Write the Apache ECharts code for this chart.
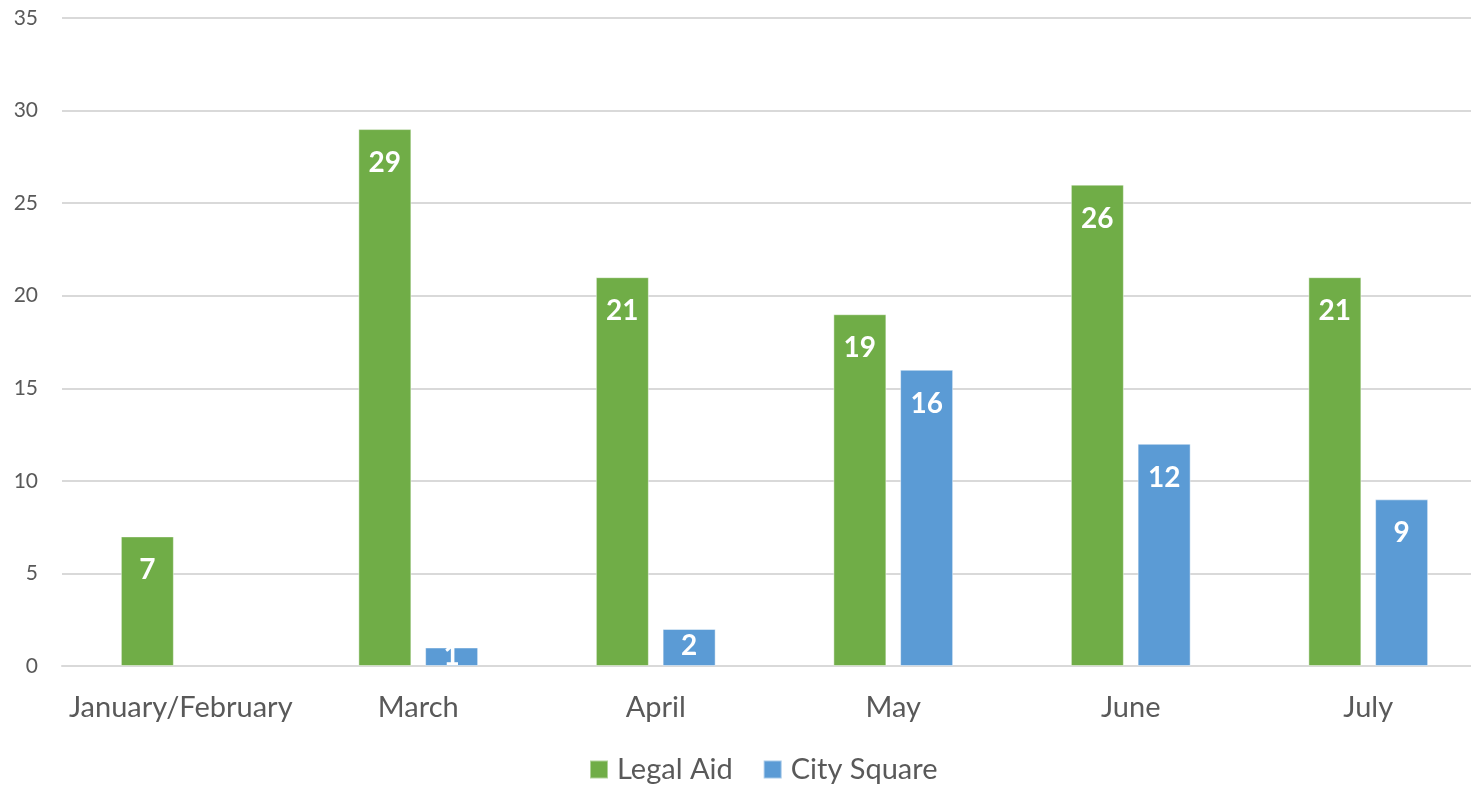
<!DOCTYPE html>
<html>
<head>
<meta charset="utf-8">
<script src="https://cdn.jsdelivr.net/npm/echarts@6/dist/echarts.min.js"></script>
<style>
  html, body { margin: 0; padding: 0; background: #fff; }
  #chart { width: 1471px; height: 787px; }
</style>
</head>
<body>
<div id="chart"></div>
<script>
// 月份分类
const months = ['January/February', 'March', 'April', 'May', 'June', 'July'];
// 各系列数值
const legalAid = [7, 29, 21, 19, 26, 21];
const citySquare = [null, 1, 2, 16, 12, 9];
// y轴刻度
const yTicks = [0, 5, 10, 15, 20, 25, 30, 35];

const textColor = '#595959';
const font = 'Lato';
const plotTop = 18;
const plotBottom = 121;
const plotHeight = 787 - plotTop - plotBottom;

// 柱子太矮时，标签往上移（类似Excel）
function withLabels(values) {
    const yMax = yTicks[yTicks.length - 1];
    return values.map(v => {
        if (v == null) return v;
        const h = v / yMax * plotHeight;
        if (h >= 45) return v;
        return { value: v, label: { distance: Math.max(-6, (h - 20) / 2 - 6) } };
    });
}

function initChart() {
    const chart = echarts.init(document.getElementById('chart'));
    const label = {
        show: true,
        position: 'insideTop',
        distance: 20,
        color: '#fff',
        fontFamily: font,
        fontWeight: 'bold',
        fontSize: 28
    };
    chart.setOption({
        animation: false,
        textStyle: { fontFamily: font },
        // 绘图区右侧超出画布，与原图一致
        grid: { left: 62, width: 1425, top: plotTop, bottom: plotBottom, outerBoundsMode: 'none' },
        legend: {
            bottom: -2,
            left: 584,
            itemWidth: 18,
            itemHeight: 18,
            itemGap: 30,
            icon: 'rect',
            textStyle: { color: textColor, fontSize: 29, fontFamily: font, padding: [0, 0, 0, 4] },
            data: ['Legal Aid', 'City Square']
        },
        xAxis: {
            type: 'category',
            data: months,
            axisLine: { lineStyle: { color: '#D9D9D9', width: 2 } },
            axisTick: { show: false },
            axisLabel: { color: textColor, fontSize: 29, margin: 27, interval: 0, fontFamily: font }
        },
        yAxis: {
            type: 'value',
            min: yTicks[0],
            max: yTicks[yTicks.length - 1],
            interval: 5,
            axisLine: { show: false },
            axisTick: { show: false },
            splitLine: { lineStyle: { color: '#D9D9D9', width: 2 } },
            axisLabel: { color: textColor, fontSize: 21, margin: 24, fontFamily: font }
        },
        series: [
            {
                name: 'Legal Aid',
                type: 'bar',
                data: withLabels(legalAid),
                barWidth: 53,
                barGap: '26%',
                itemStyle: { color: '#70AD47', borderColor: 'rgba(255,255,255,0.45)', borderWidth: 1 },
                label: label
            },
            {
                name: 'City Square',
                type: 'bar',
                data: withLabels(citySquare),
                barWidth: 53,
                itemStyle: { color: '#5B9BD5', borderColor: 'rgba(255,255,255,0.45)', borderWidth: 1 },
                label: label
            }
        ]
    });
}

initChart();
</script>
</body>
</html>
